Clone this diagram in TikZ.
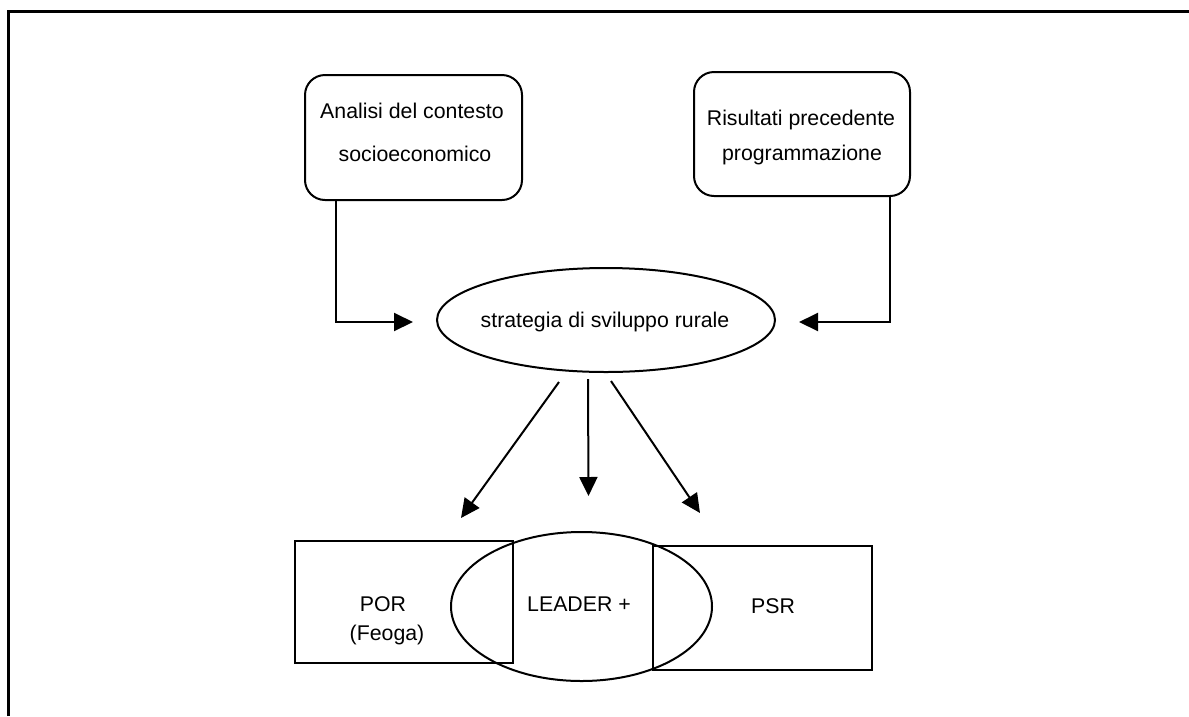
\documentclass[tikz,border=0pt]{standalone}
\usepackage{fontspec}
\setmainfont{Liberation Sans}
\usetikzlibrary{shapes.geometric,arrows.meta,calc}
\begin{document}
\begin{tikzpicture}[x=1pt,y=-1pt,
  every node/.style={font=\fontsize{21.3}{25}\selectfont},
  rbox/.style={draw,line width=2pt,rounded corners=20pt,inner sep=0pt},
  pbox/.style={draw,line width=2pt,inner sep=0pt},
  oval/.style={draw,ellipse,line width=2pt,inner sep=0pt},
  txt/.style={anchor=base,inner sep=0pt},
  arr/.style={line width=2pt,-{Triangle[length=19pt,width=18pt]}}]
\useasboundingbox (0,0) rectangle (1189,716);
\draw[line width=3pt] (8,716) -- (8,11) -- (1189,11);

% top boxes
\node[rbox,minimum width=217pt,minimum height=125pt] (anal) at (413.5,137.5) {};
\node[txt] (anal1) at (412,118.3) {Analisi del contesto};
\node[txt] (anal2) at (415,161.7) {socioeconomico};

\node[rbox,minimum width=216pt,minimum height=124pt] (ris) at (802,134) {};
\node[txt] (ris1) at (801,125.7) {Risultati precedente};
\node[txt] (ris2) at (802,160) {programmazione};

% strategy ellipse
\node[oval,minimum width=338pt,minimum height=104pt] (strat) at (606,320) {};
\node[txt] (strattxt) at (605,327) {strategia di sviluppo rurale};

% bottom shapes
\node[pbox,minimum width=218pt,minimum height=122pt] (por) at (404,602) {};
\node[pbox,minimum width=219pt,minimum height=124pt] (psr) at (762.5,608) {};
\node[oval,minimum width=261pt,minimum height=149pt] (leader) at (581.5,606.5) {};
\node[txt] (portxt) at (383,611) {POR};
\node[txt] (feoga) at (387,640) {(Feoga)};
\node[txt] (leadertxt) at (579,611) {LEADER +};
\node[txt] (psrtxt) at (773,613) {PSR};

% connectors into strategy
\coordinate (c1) at ($(anal.south west)+(32,0)$);
\coordinate (c2) at ($(ris.south east)+(-21,0)$);
\draw[arr] (c1) |- ($(strat.west)+(-23,2)$);
\draw[arr] (c2) |- ($(strat.east)+(23,2)$);

% connectors out of strategy
\draw[arr] ($(strat.south)+(-47,9)$) -- ($(por.north)+(57,-22)$);
\draw[arr] ($(strat.south)+(-18,6)$) -- ($(leader.north)+(7,-35)$);
\draw[arr] ($(strat.south)+(5,8)$) -- ($(psr.north)+(-62.5,-32)$);
\end{tikzpicture}
\end{document}
